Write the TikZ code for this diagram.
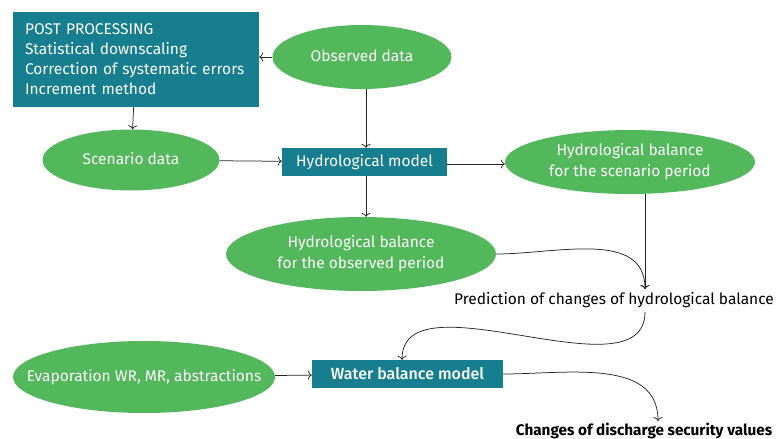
\documentclass[tikz,border=0pt]{standalone}
\usepackage{fontspec}
\setmainfont{Fira Sans}
\newfontfamily\medfont{Fira Sans Medium}
\usetikzlibrary{shapes.geometric, arrows.meta}
\definecolor{teal}{HTML}{167E8F}
\definecolor{leaf}{HTML}{52B85B}
% text that does not widen its ellipse
\newcommand{\blobtext}[1]{\makebox[0pt]{\begin{tabular}{@{}c@{}}#1\end{tabular}}}

\begin{document}
\begin{tikzpicture}[x=1pt, y=-1pt, >={To[length=4pt, width=9pt]},
    blob/.style={ellipse, fill=leaf, text=white, inner sep=0pt, font=\fontsize{15.5}{21}\selectfont},
    block/.style={rectangle, fill=teal, text=white, inner sep=0pt, font=\fontsize{15.5}{20}\selectfont},
    link/.style={->, line width=0.75pt, black!85}]
    \useasboundingbox (0, 0) rectangle (780, 439);

    \node[block, minimum width=246, minimum height=95, text width=222, align=left] (post) at (136, 59.5)
        {POST PROCESSING\\
         Statistical downscaling\\
         Correction of systematic errors\\
         Increment method};
    \node[blob, minimum width=179, minimum height=64] (observed) at (362, 57) {\blobtext{Observed data}};
    \node[blob, minimum width=177, minimum height=61] (scenario) at (131, 160) {\blobtext{Scenario data}};
    \node[block, minimum width=165, minimum height=28] (hydro) at (364.5, 162) {Hydrological model};
    \node[blob, minimum width=250, minimum height=64] (scen-bal) at (630, 162) {\blobtext{Hydrological balance\\for the scenario period}};
    \node[blob, minimum width=270, minimum height=74] (obs-bal) at (361, 254) {\blobtext{Hydrological balance\\for the observed period}};

    \node[font=\fontsize{15.5}{18}\selectfont] (prediction) at (614, 300) {Prediction of changes of hydrological balance};
    \coordinate (pred-in) at (645, 289);
    \coordinate (pred-out) at (645, 312);

    \node[blob, minimum width=262, minimum height=72] (evap) at (144, 377) {\blobtext{Evaporation WR, MR, abstractions}};
    \node[block, minimum width=191, minimum height=28, font=\medfont\fontsize{16}{18}\selectfont] (water) at (407.5, 374) {Water balance model};
    \node[font=\bfseries\fontsize{15.3}{18}\selectfont] (changes) at (644, 431) {Changes of discharge security values};
    \coordinate (changes-in) at (658, 421);

    \draw[link] (observed) -- (post.east |- observed);
    \draw[link] (post) -- (scenario);
    \draw[link] (observed.south -| 366, 0) -- (hydro.north -| 366, 0);
    \draw[link] (scenario) -- (hydro);
    \draw[link] (hydro.east |- 0, 164) -- (scen-bal.west |- 0, 164);
    \draw[link] (hydro.south -| 366, 0) -- (obs-bal.north -| 366, 0);

    \draw[link] (pred-in |- scen-bal.south) -- (pred-in);
    \draw[link] (obs-bal.east) to[out=0, in=90] (pred-in);
    \draw[link] (pred-out) to[out=-90, in=90, looseness=0.9] (water.north -| 402, 0);

    \draw[link] (evap) -- (water);
    \draw[link] (water.east) to[out=0, in=90] (changes-in);
\end{tikzpicture}
\end{document}
